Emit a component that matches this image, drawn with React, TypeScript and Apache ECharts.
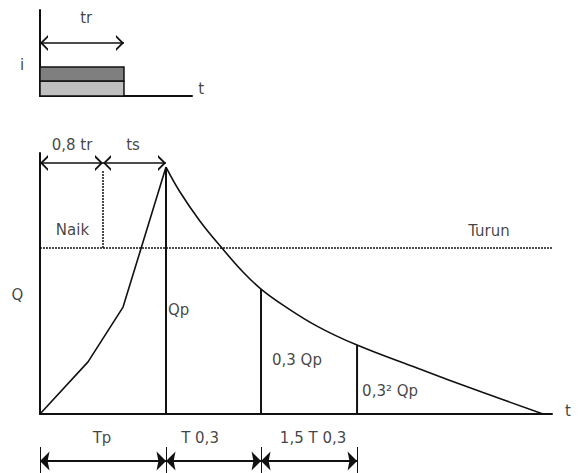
import { useEffect, useRef } from "react";
import * as echarts from "echarts";

// ---- Data (time in units of Tp, discharge in units of Qp) ----
// Rainfall block (top panel): duration tr, two stacked layers
const rainDuration = 1.0; // tr
const rainLayerBottoms = [0, 1.05];
const rainLayerTops = [1.05, 2.02];

// Hydrograph rising limb
const risingT = [0, 0.381, 0.659, 1.0];
const risingQ = [0, 0.211, 0.433, 1.0];

// Hydrograph falling limb
const fallingT = [1.0, 1.111, 1.27, 1.444, 1.611, 1.754, 1.929, 2.198, 2.516, 2.992, 3.516, 3.992];
const fallingQ = [1.0, 0.899, 0.781, 0.672, 0.575, 0.506, 0.441, 0.356, 0.279, 0.186, 0.087, 0.0];

// Characteristic ordinates: Qp at Tp, 0.3 Qp at Tp+T0.3, 0.3^2 Qp at Tp+2.5 T0.3
const ordinateT = [1.0, 1.754, 2.516];
const ordinateQ = [1.0, 0.506, 0.279];

// Phase split of the rising time: 0.8 tr | ts
const phaseBounds = [0, 0.5, 1.0];
const thresholdQ = 0.672; // Naik / Turun boundary
const thresholdSpan = [-0.024, 4.063];

// Dimension bounds below the time axis: Tp | T 0,3 | 1,5 T 0,3
const dimBounds = [0, 1.0, 1.754, 2.516];
const dimLabels = ["Tp", "T 0,3", "1,5 T 0,3"];

// Axis extents
const topAxisMax = { t: 1.81, i: 6 };
const mainAxisMax = { t: 4.063, q: 1.057 };

// ---- Annotation placement (in data units of each panel) ----
const topLabels = [
  { text: "tr", t: 0.55, v: 5.44, left: false },
  { text: "i", t: -0.214, v: 2.16, left: false },
  { text: "t", t: 1.92, v: 0.49, left: false },
];
const mainLabels = [
  { text: "0,8 tr", t: 0.254, q: 1.089, left: false },
  { text: "ts", t: 0.738, q: 1.089, left: false },
  { text: "Naik", t: 0.258, q: 0.745, left: false },
  { text: "Turun", t: 3.563, q: 0.741, left: false },
  { text: "Q", t: -0.179, q: 0.482, left: false },
  { text: "Qp", t: 1.016, q: 0.421, left: true },
  { text: "0,3 Qp", t: 1.841, q: 0.219, left: true },
  { text: "0,3² Qp", t: 2.556, q: 0.093, left: true },
  { text: "t", t: 4.19, q: 0.012, left: false },
];
const dimLabelT = [0.492, 1.27, 2.167];
const dimLabelY = 0.729;
const dimArrowY = 0.25;
const dimTickTop = 0.542;
const phaseArrowQ = 1.016;
const rainArrowV = 3.7;

// ---- Styles ----
const INK = "#111";
const FONT = "DejaVu Sans";
const rainColors = ["#c0c0c0", "#7f7f7f"];
// Arrow heads drawn with the tip at the symbol centre (tiny dot at top balances the box)
const openArrow = "path://M10,10L15,20L13.4,20L10,13.2L6.6,20L5,20ZM10,0L10.05,0L10,0.05Z";
const solidArrow = "path://M10,10L15,20L10,18L5,20ZM10,0L10.05,0L10,0.05Z";

const axisStyle = {
  type: "value",
  axisLine: { show: true, onZero: false, lineStyle: { color: INK, width: 2 } },
  axisTick: { show: false },
  axisLabel: { show: false },
  splitLine: { show: false },
};

function labelSeries(items: { text: string; x: number; y: number; left: boolean }[], xi: number, yi: number) {
  return {
    type: "scatter",
    xAxisIndex: xi,
    yAxisIndex: yi,
    symbolSize: 0,
    clip: false,
    silent: true,
    z: 10,
    data: items.map((l) => ({
      value: [l.x, l.y],
      name: l.text,
      label: {
        show: true,
        position: l.left ? "right" : "inside",
        distance: 0,
        formatter: "{b}",
        color: INK,
        fontFamily: FONT,
        fontSize: 15,
      },
    })),
  };
}

function segSeries(points: number[][], xi: number, yi: number, lineStyle: any, extra: any = {}) {
  return {
    type: "line",
    xAxisIndex: xi,
    yAxisIndex: yi,
    data: points,
    symbol: "none",
    clip: false,
    silent: true,
    lineStyle,
    ...extra,
  };
}

function arrowLines(bounds: number[], y: number) {
  const out: any[] = [];
  for (let k = 0; k < bounds.length - 1; k++) {
    out.push([{ coord: [bounds[k], y] }, { coord: [bounds[k + 1], y] }]);
  }
  return out;
}

export default function App() {
  const ref = useRef<HTMLDivElement>(null);

  useEffect(() => {
    if (!ref.current) return;
    const chart = echarts.init(ref.current, undefined, { renderer: "svg" });

    const series: any[] = [];

    // Top panel: rainfall block + tr arrow
    series.push({
      type: "line",
      xAxisIndex: 0,
      yAxisIndex: 0,
      data: [[0, 0]],
      symbol: "none",
      silent: true,
      markArea: {
        silent: true,
        data: rainLayerBottoms.map((b, k) => [
          { coord: [0, b], itemStyle: { color: rainColors[k], opacity: 1, borderColor: INK, borderWidth: 1.5 } },
          { coord: [rainDuration, rainLayerTops[k]] },
        ]),
      },
      markLine: {
        silent: true,
        symbol: [openArrow, openArrow],
        symbolSize: 16,
        label: { show: false },
        lineStyle: { color: INK, width: 1.5, type: "solid" },
        data: arrowLines([0, rainDuration], rainArrowV),
      },
    });
    series.push(labelSeries(topLabels.map((l) => ({ text: l.text, x: l.t, y: l.v, left: l.left })), 0, 0));

    // Main panel: hydrograph
    series.push(
      segSeries(
        risingT.map((t, k) => [t, risingQ[k]]),
        1,
        1,
        { color: INK, width: 1.6 }
      )
    );
    series.push(
      segSeries(
        fallingT.map((t, k) => [t, fallingQ[k]]),
        1,
        1,
        { color: INK, width: 1.6 },
        { smooth: 0.4 }
      )
    );
    ordinateT.forEach((t, k) => {
      series.push(
        segSeries(
          [
            [t, 0],
            [t, ordinateQ[k]],
          ],
          1,
          1,
          { color: INK, width: 2 }
        )
      );
    });
    // Naik / Turun threshold (dotted)
    series.push(
      segSeries(
        [
          [thresholdSpan[0], thresholdQ],
          [thresholdSpan[1], thresholdQ],
        ],
        1,
        1,
        { color: INK, width: 1.5, type: [2, 1] }
      )
    );
    series.push(
      segSeries(
        [
          [phaseBounds[1], thresholdQ],
          [phaseBounds[1], 0.988],
        ],
        1,
        1,
        { color: INK, width: 1.5, type: [2, 1] },
        {
          markLine: {
            silent: true,
            symbol: [openArrow, openArrow],
            symbolSize: 16,
            label: { show: false },
            lineStyle: { color: INK, width: 1.5, type: "solid" },
            data: arrowLines(phaseBounds, phaseArrowQ),
          },
        }
      )
    );
    series.push(labelSeries(mainLabels.map((l) => ({ text: l.text, x: l.t, y: l.q, left: l.left })), 1, 1));

    // Bottom panel: dimension arrows
    series.push({
      type: "line",
      xAxisIndex: 2,
      yAxisIndex: 2,
      data: [[0, 0]],
      symbol: "none",
      silent: true,
      markLine: {
        silent: true,
        symbol: [solidArrow, solidArrow],
        symbolSize: 19,
        label: { show: false },
        lineStyle: { color: INK, width: 2, type: "solid" },
        data: arrowLines(dimBounds, dimArrowY),
      },
    });
    series.push({
      type: "line",
      xAxisIndex: 2,
      yAxisIndex: 2,
      data: [[0, 0]],
      symbol: "none",
      silent: true,
      markLine: {
        silent: true,
        symbol: ["none", "none"],
        label: { show: false },
        lineStyle: { color: INK, width: 1, type: "solid" },
        data: dimBounds.map((t) => [{ coord: [t, 0] }, { coord: [t, dimTickTop] }]),
      },
    });
    series.push(labelSeries(dimLabels.map((s, k) => ({ text: s, x: dimLabelT[k], y: dimLabelY, left: false })), 2, 2));

    chart.setOption({
      animation: false,
      backgroundColor: "#ffffff",
      grid: [
        { left: 40, top: 10, width: 152, height: 86 },
        { left: 40, top: 153, width: 512, height: 261 },
        { left: 40, top: 425, width: 512, height: 48 },
      ],
      xAxis: [
        { ...axisStyle, gridIndex: 0, min: 0, max: topAxisMax.t },
        { ...axisStyle, gridIndex: 1, min: 0, max: mainAxisMax.t },
        { type: "value", gridIndex: 2, min: 0, max: mainAxisMax.t, show: false },
      ],
      yAxis: [
        { ...axisStyle, gridIndex: 0, min: 0, max: topAxisMax.i },
        { ...axisStyle, gridIndex: 1, min: 0, max: mainAxisMax.q },
        { type: "value", gridIndex: 2, min: 0, max: 1, show: false },
      ],
      series,
    });

    return () => chart.dispose();
  }, []);

  return (
    <div
      ref={ref}
      style={{ position: "fixed", left: 0, top: 0, width: 581, height: 473, background: "#fff" }}
    />
  );
}
